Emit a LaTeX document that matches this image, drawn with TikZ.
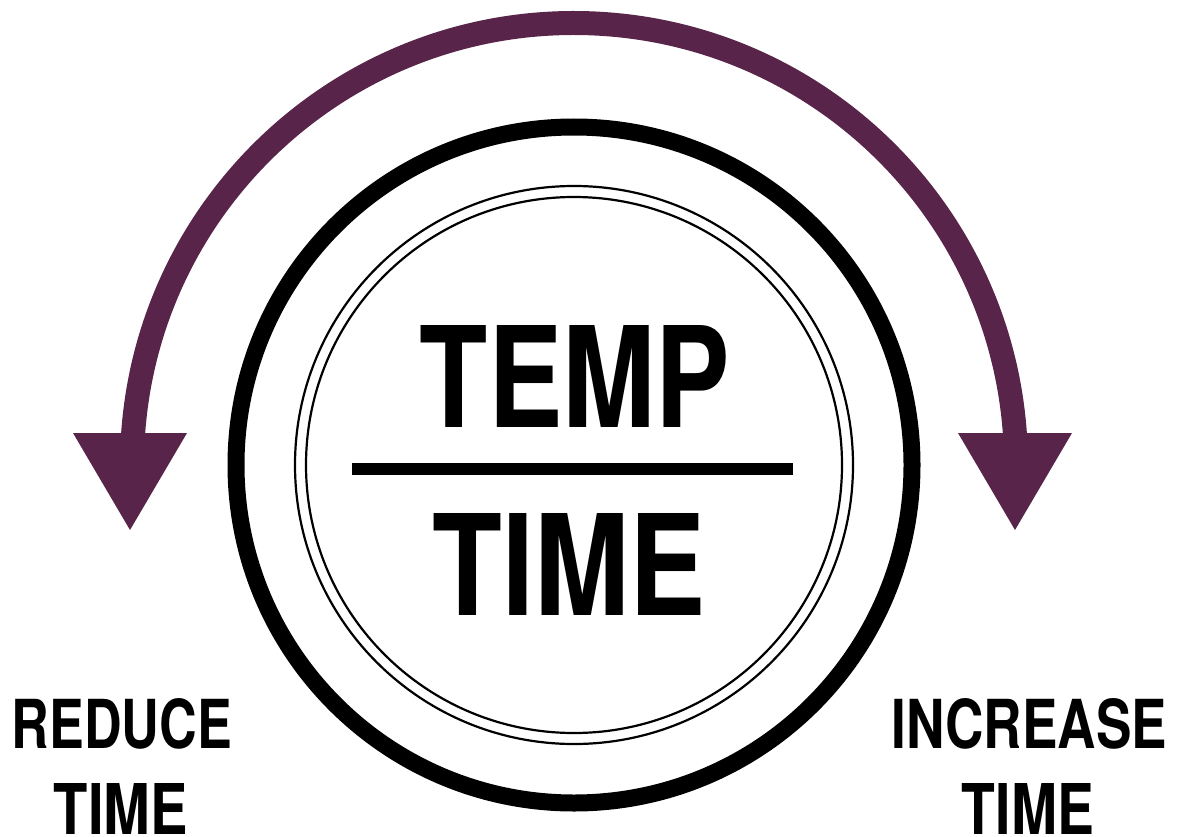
\documentclass[tikz,border=0pt]{standalone}
\usepackage{fontspec}
\setmainfont{TeX Gyre Heros}
\usepackage{graphicx}
\usetikzlibrary{calc}
\definecolor{arcpurple}{RGB}{88,36,74}
\begin{document}
\begin{tikzpicture}[x=1pt,y=-1pt,
  ring/.style={draw=black,line width=17pt},
  thinring/.style={draw=black,line width=2.2pt},
  purplearc/.style={draw=arcpurple,line width=24pt},
  headtri/.style={fill=arcpurple,draw=none},
  lbl/.style={inner sep=0pt,anchor=base,font=\bfseries}]
\useasboundingbox (0,0) rectangle (1177,837);
\coordinate (c) at (574,465);
\draw[ring] (c) circle[radius=338];
\draw[thinring] (c) circle[radius=279];
\draw[thinring] (c) circle[radius=268];
% purple arc
\coordinate (arcstart) at ($(c)+(-178:442)$);
\draw[purplearc] (arcstart) arc[start angle=-178,end angle=-2,radius=442];
\fill[headtri] (73,433) -- (187,433) -- (130,530) -- cycle;
\fill[headtri] (958,433) -- (1072,433) -- (1015,530) -- cycle;
% centre text
\node[lbl] (temp) at (575,427) {\resizebox{310pt}{102pt}{TEMP}};
\node[lbl] (time) at (569,615) {\resizebox{273pt}{102pt}{TIME}};
\coordinate (divl) at (352,469);
\coordinate (divr) at (793,469);
\draw[line width=12pt] (divl) -- (divr);
% side labels
\node[lbl] (reduce) at (122,748) {\resizebox{220pt}{50pt}{REDUCE}};
\node[lbl] (ltime) at (121,834) {\resizebox{134pt}{51pt}{TIME}};
\node[lbl] (increase) at (1029.5,748) {\resizebox{275pt}{50pt}{INCREASE}};
\node[lbl] (rtime) at (1028,834) {\resizebox{132pt}{51pt}{TIME}};
\end{tikzpicture}
\end{document}
